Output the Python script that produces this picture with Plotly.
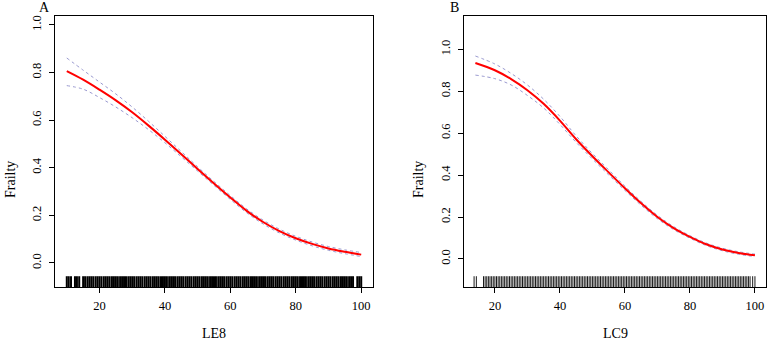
import plotly.graph_objects as go

# ---------------- data ----------------
le8_x = [10, 15, 20, 25, 30, 35, 40, 45, 50, 55, 60, 65, 70, 75, 80, 85, 90, 95, 100]
le8_fit = [0.806, 0.770, 0.728, 0.683, 0.633, 0.577, 0.518, 0.457, 0.395, 0.334,
           0.275, 0.219, 0.172, 0.134, 0.104, 0.080, 0.061, 0.047, 0.035]
le8_upper = [0.861, 0.810, 0.760, 0.710, 0.655, 0.595, 0.532, 0.468, 0.404, 0.342,
             0.283, 0.227, 0.180, 0.142, 0.112, 0.088, 0.069, 0.055, 0.044]
le8_lower = [0.745, 0.730, 0.695, 0.655, 0.610, 0.560, 0.505, 0.446, 0.386, 0.326,
             0.267, 0.211, 0.164, 0.126, 0.096, 0.072, 0.053, 0.039, 0.027]

lc9_x = [14, 20, 25, 30, 35, 40, 45, 50, 55, 60, 65, 70, 75, 80, 85, 90, 95, 100]
lc9_fit = [0.935, 0.900, 0.858, 0.805, 0.740, 0.660, 0.571, 0.490, 0.413, 0.337,
           0.265, 0.200, 0.147, 0.105, 0.070, 0.045, 0.028, 0.017]
lc9_upper = [0.968, 0.930, 0.885, 0.830, 0.762, 0.680, 0.587, 0.503, 0.425, 0.347,
             0.274, 0.208, 0.154, 0.111, 0.076, 0.051, 0.034, 0.023]
lc9_lower = [0.877, 0.860, 0.830, 0.780, 0.720, 0.642, 0.556, 0.477, 0.401, 0.327,
             0.256, 0.192, 0.140, 0.099, 0.064, 0.039, 0.022, 0.011]

le8_rug = [10.0, 10.6, 11.3, 12.5, 13.1, 13.8, 15.0, 15.6, 16.3, 16.9, 17.5, 18.1, 18.8,
           19.4, 20.0, 20.6, 21.3, 21.9, 22.5, 23.1, 23.8, 24.4, 25.0, 25.6, 26.3, 26.9,
           27.5, 28.1, 28.8, 29.4, 30.0, 30.6, 31.3, 31.9, 32.5, 33.1, 33.8, 34.4, 35.0,
           35.6, 36.3, 36.9, 37.5, 38.1, 38.8, 39.4, 40.0, 40.6, 41.3, 41.9, 42.5, 43.1,
           43.8, 44.4, 45.0, 45.6, 46.3, 46.9, 47.5, 48.1, 48.8, 49.4, 50.0, 50.6, 51.3,
           51.9, 52.5, 53.1, 53.8, 54.4, 55.0, 55.6, 56.3, 56.9, 57.5, 58.1, 58.8, 59.4,
           60.0, 60.6, 61.3, 61.9, 62.5, 63.1, 63.8, 64.4, 65.0, 65.6, 66.3, 66.9, 67.5,
           68.1, 68.8, 69.4, 70.0, 70.6, 71.3, 71.9, 72.5, 73.1, 73.8, 74.4, 75.0, 75.6,
           76.3, 76.9, 77.5, 78.1, 78.8, 79.4, 80.0, 80.6, 81.3, 81.9, 82.5, 83.1, 83.8,
           84.4, 85.0, 85.6, 86.3, 86.9, 87.5, 88.1, 88.8, 89.4, 90.0, 90.6, 91.3, 91.9,
           92.5, 93.1, 93.8, 94.4, 95.0, 95.6, 96.3, 96.9, 97.5, 98.8, 99.4, 100.0]

lc9_rug = [13.6, 14.3,
           16.5, 17.0, 17.5, 18.0, 18.5, 19.0, 19.5, 20.0, 20.5, 21.0, 21.5, 22.0, 22.5,
           23.0, 23.5, 24.0, 24.5, 25.0, 25.5, 26.0, 26.5, 27.0, 27.5, 28.0, 28.5, 29.0,
           29.5, 30.0, 30.5, 31.0, 31.5, 32.0, 32.5, 33.0, 33.5, 34.0, 34.5, 35.0, 35.5,
           36.0, 36.5, 37.0, 37.5, 38.0, 38.5, 39.0, 39.5, 40.0, 40.5, 41.0, 41.5, 42.0,
           42.5, 43.0, 43.5, 44.0, 44.5, 45.0, 45.5, 46.0, 46.5, 47.0, 47.5, 48.0, 48.5,
           49.0, 49.5, 50.0, 50.5, 51.0, 51.5, 52.0, 52.5, 53.0, 53.5, 54.0, 54.5, 55.0,
           55.5, 56.0, 56.5, 57.0, 57.5, 58.0, 58.5, 59.0, 59.5, 60.0, 60.5, 61.0, 61.5,
           62.0, 62.5, 63.0, 63.5, 64.0, 64.5, 65.0, 65.5, 66.0, 66.5, 67.0, 67.5, 68.0,
           68.5, 69.0, 69.5, 70.0, 70.5, 71.0, 71.5, 72.0, 72.5, 73.0, 73.5, 74.0, 74.5,
           75.0, 75.5, 76.0, 76.5, 77.0, 77.5, 78.0, 78.5, 79.0, 79.5, 80.0, 80.5, 81.0,
           81.5, 82.0, 82.5, 83.0, 83.5, 84.0, 84.5, 85.0, 85.5, 86.0, 86.5, 87.0, 87.5,
           88.0, 88.5, 89.0, 89.5, 90.0, 90.5, 91.0, 91.5, 92.0, 92.5, 93.0, 93.5, 94.0,
           94.5, 95.0, 95.5, 96.0, 96.5, 97.0, 97.5, 98.0, 98.5, 99.3, 100.0]

y_ticks = [0.0, 0.2, 0.4, 0.6, 0.8, 1.0]
x_ticks = [20, 40, 60, 80, 100]

# ---------------- figure ----------------
W, H = 768, 341
FONT = "Liberation Serif, Times New Roman, serif"
RED = "#ff0000"
BAND = "#9a9ad0"

fig = go.Figure()

rangeA_y = [-0.101, 1.0375]
rangeB_y = [-0.134, 1.159]
rugA_y = rangeA_y[0] + (rangeA_y[1] - rangeA_y[0]) * 0.0165
rugB_y = rangeB_y[0] + (rangeB_y[1] - rangeB_y[0]) * 0.0165


def add_panel(xs, fit, up, lo, rug, rug_y, xa, ya, rug_w):
    for band in (up, lo):
        fig.add_trace(go.Scatter(x=xs, y=band, mode="lines", xaxis=xa, yaxis=ya,
                                 line=dict(color=BAND, width=1, dash="dot", shape="spline"),
                                 showlegend=False, hoverinfo="skip"))
    fig.add_trace(go.Scatter(x=xs, y=fit, mode="lines", xaxis=xa, yaxis=ya,
                             line=dict(color=RED, width=2, shape="spline"),
                             showlegend=False))
    fig.add_trace(go.Scatter(x=rug, y=[rug_y] * len(rug), mode="markers", xaxis=xa, yaxis=ya,
                             marker=dict(symbol="line-ns", size=9,
                                         line=dict(width=rug_w, color="black")),
                             showlegend=False, hoverinfo="x"))


add_panel(le8_x, le8_fit, le8_upper, le8_lower, le8_rug, rugA_y, "x", "y", 2.0)
add_panel(lc9_x, lc9_fit, lc9_upper, lc9_lower, lc9_rug, rugB_y, "x2", "y2", 0.9)

ydom = [(H - 287) / H, (H - 16) / H]
axis_common = dict(showline=True, mirror=True, linecolor="black", linewidth=1,
                   ticks="outside", ticklen=5, tickcolor="black", tickwidth=1,
                   showgrid=False, zeroline=False, ticklabeloverflow="allow",
                   tickfont=dict(family=FONT, size=12.5, color="black"))

fig.update_layout(
    width=W, height=H,
    margin=dict(l=0, r=0, t=0, b=0),
    paper_bgcolor="white", plot_bgcolor="white",
    font=dict(family=FONT, color="black"),
    xaxis=dict(domain=[55 / W, 373 / W], range=[6.4, 103.6], tickvals=x_ticks,
               anchor="y", ticklabelstandoff=2, **axis_common),
    yaxis=dict(domain=ydom, range=rangeA_y, tickvals=y_ticks, tickformat=".1f",
               tickangle=-90, anchor="x", ticklabelstandoff=3, **axis_common),
    xaxis2=dict(domain=[464 / W, 766 / W], range=[10.5, 103.4], tickvals=x_ticks,
                anchor="y2", ticklabelstandoff=2, **axis_common),
    yaxis2=dict(domain=ydom, range=rangeB_y, tickvals=y_ticks, tickformat=".1f",
                tickangle=-90, anchor="x2", ticklabelstandoff=3, **axis_common),
)

ann = dict(xref="paper", yref="paper", showarrow=False, xanchor="center", yanchor="middle",
           font=dict(family=FONT, size=14, color="black"))
fig.add_annotation(text="A", x=44 / W, y=1 - 8 / H, **ann)
fig.add_annotation(text="B", x=454 / W, y=1 - 8 / H, **ann)
fig.add_annotation(text="LE8", x=214 / W, y=1 - 333 / H, **ann)
fig.add_annotation(text="LC9", x=615 / W, y=1 - 333 / H, **ann)
fig.add_annotation(text="Frailty", x=10 / W, y=1 - 180 / H, textangle=-90, **ann)
fig.add_annotation(text="Frailty", x=418 / W, y=1 - 180 / H, textangle=-90, **ann)

fig.write_html("out.html", config={"displayModeBar": False},
               post_script="document.body.style.margin='0';")
